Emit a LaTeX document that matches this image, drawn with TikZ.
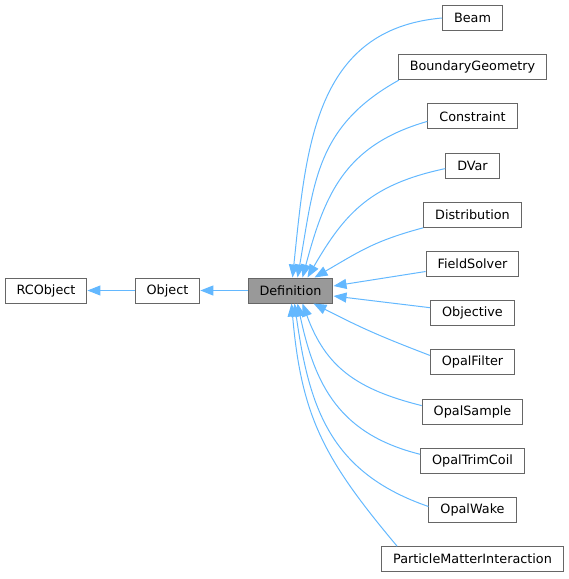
\documentclass[tikz,border=0pt]{standalone}
\usepackage{fontspec}
\setmainfont{DejaVu Sans}
\usepackage{xcolor}
\usepackage{tikz}
\usetikzlibrary{arrows.meta}
\definecolor{edgeblue}{HTML}{63B8FF}
\definecolor{boxgray}{HTML}{666666}
\definecolor{defgray}{HTML}{999999}

\begin{document}
\begin{tikzpicture}[x=1pt,y=1pt,
  cls/.style={draw=boxgray,fill=white,line width=1pt,minimum height=25pt,
    inner xsep=11.5pt,inner ysep=0pt,font=\fontsize{12.8}{15}\selectfont},
  edge/.style={draw=edgeblue,line width=1pt,-{Triangle[length=13pt,width=10pt,fill=edgeblue]}}]
  \useasboundingbox (0,0) rectangle (569,-579);
  % base classes
  \node[cls,fill=defgray] (def) at (290.5,-290.5) {Definition};
  \node[cls] (obj) at (167.5,-290.5) {Object};
  \node[cls] (rco) at (46,-290.5) {RCObject};
  \draw[edge] (obj) -- (rco);
  \draw[edge] (def) -- (obj);
  % derived classes
  \foreach \n/\t [count=\k from 0] in {beam/Beam,bgeom/BoundaryGeometry,con/Constraint,
      dvar/DVar,dist/Distribution,fs/FieldSolver,objective/Objective,ofilter/OpalFilter,
      osample/OpalSample,otrim/OpalTrimCoil,owake/OpalWake,pmi/ParticleMatterInteraction}
    \node[cls] (\n) at (472.5,-18-49.2*\k) {\t};
  % edges into the top of Definition
  \foreach \s/\sx/\sy/\ex/\so/\ta in {beam.west/0/0/45/185/84,bgeom.south west/1/0/50/209/80,
      con.west/0/-5/55/196/75,dvar.west/0/-3/60/192/60,dist.south west/0/0/67/195/30}
    \draw[edge] ([shift={(\sx pt,\sy pt)}]\s) to[out=\so,in=\ta,looseness=1.1] ([xshift=\ex pt]def.north west);
  % edges into the right side
  \draw[edge] ([yshift=-7.5pt]fs.west) -- ([yshift=4.5pt]def.east);
  \draw[edge] ([yshift=5.5pt]objective.west) -- ([yshift=-5.5pt]def.east);
  % edges into the bottom
  \foreach \s/\sx/\sy/\ex/\so/\ta in {ofilter.west/0/7/66/159/333,osample.west/0/6/55/166/290,
      otrim.west/0/6.5/50/166/282,owake.west/0/3.5/47/161/278,pmi.north west/16/0/44/130/275}
    \draw[edge] ([shift={(\sx pt,\sy pt)}]\s) to[out=\so,in=\ta,looseness=1.1] ([xshift=\ex pt]def.south west);
\end{tikzpicture}
\end{document}
